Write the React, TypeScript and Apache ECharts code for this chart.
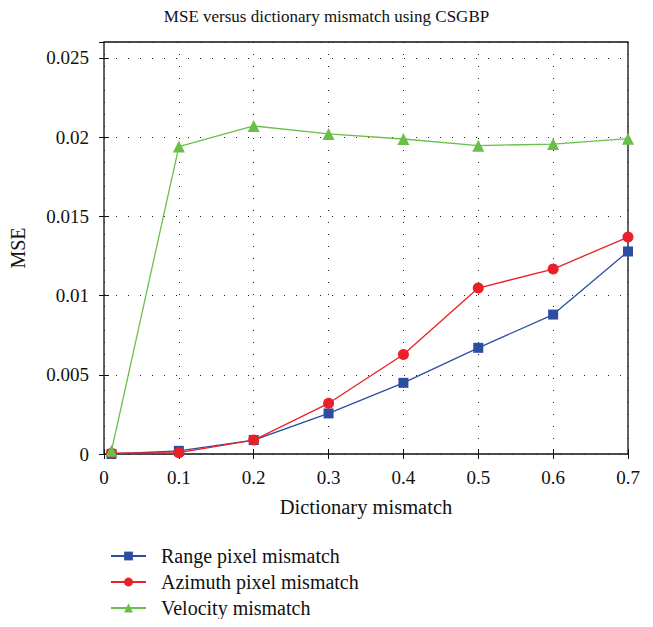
import React, { useEffect, useRef } from "react";
import * as echarts from "echarts";

const xValues = [0.01, 0.1, 0.2, 0.3, 0.4, 0.5, 0.6, 0.7];
const rangeMSE = [0.0, 0.0002, 0.00088, 0.00256, 0.00449, 0.0067, 0.0088, 0.01278];
const azimuthMSE = [0.00005, 0.00008, 0.00088, 0.0032, 0.00628, 0.01047, 0.01167, 0.01369];
const velocityMSE = [0.0002, 0.0194, 0.0207, 0.0202, 0.01988, 0.01946, 0.01956, 0.0199];
const seriesNames = ["Range pixel mismatch", "Azimuth pixel mismatch", "Velocity mismatch"];

const FONT = "'Liberation Serif', 'DejaVu Serif', serif";

export default function App() {
  const ref = useRef<HTMLDivElement>(null);
  useEffect(() => {
    if (!ref.current) return;
    const chart = echarts.init(ref.current, null, { renderer: "svg" });
    const toPairs = (arr: number[]) => arr.map((v, i) => [xValues[i], v]);
    const gridDots = { show: true, lineStyle: { color: "#222", type: [1, 11] as any, width: 1 } };
    const tick = { show: true, inside: true, length: 5, lineStyle: { color: "#111", width: 1 } };
    chart.setOption({
      animation: false,
      backgroundColor: "#fff",
      title: {
        text: "MSE versus dictionary mismatch using CSGBP",
        left: "center",
        top: 3,
        textStyle: { fontFamily: FONT, fontSize: 17, fontWeight: "normal", color: "#111" },
      },
      grid: {
        left: 104,
        right: 25,
        top: 42,
        bottom: 173,
        show: true,
        borderColor: "#111",
        borderWidth: 1.3,
        backgroundColor: "transparent",
      },
      legend: {
        orient: "vertical",
        left: 110,
        top: 546,
        padding: 0,
        itemWidth: 35,
        itemHeight: 11,
        itemGap: 6,
        data: seriesNames,
        textStyle: { fontFamily: FONT, fontSize: 20, lineHeight: 20, color: "#111", padding: [0, 0, 0, 10] },
      },
      xAxis: [
        {
          type: "value",
          min: 0,
          max: 0.7,
          interval: 0.1,
          name: "Dictionary mismatch",
          nameLocation: "middle",
          nameGap: 42,
          nameTextStyle: { fontFamily: FONT, fontSize: 20.5, color: "#111" },
          axisLine: { show: false },
          axisTick: tick,
          axisLabel: {
            fontFamily: FONT,
            fontSize: 19,
            color: "#111",
            margin: 14,
            formatter: (v: number) => (v === 0 ? "0" : v.toFixed(1)),
          },
          splitLine: gridDots,
        },
        {
          type: "value",
          position: "top",
          min: 0,
          max: 0.7,
          interval: 0.1,
          axisLine: { show: false },
          axisTick: tick,
          axisLabel: { show: false },
          splitLine: { show: false },
        },
      ],
      yAxis: [
        {
          type: "value",
          min: 0,
          max: 0.026,
          interval: 0.005,
          name: "MSE",
          nameLocation: "middle",
          nameGap: 76,
          nameTextStyle: { fontFamily: FONT, fontSize: 20, color: "#111" },
          axisLine: { show: false },
          axisTick: tick,
          axisLabel: {
            fontFamily: FONT,
            fontSize: 19,
            color: "#111",
            margin: 15,
            showMaxLabel: false,
            formatter: (v: number) => (v > 0.0255 ? "" : String(+v.toFixed(3))),
          },
          splitLine: gridDots,
        },
        {
          type: "value",
          position: "right",
          min: 0,
          max: 0.026,
          interval: 0.005,
          axisLine: { show: false },
          axisTick: tick,
          axisLabel: { show: false },
          splitLine: { show: false },
        },
      ],
      series: [
        {
          name: seriesNames[0],
          type: "line",
          data: toPairs(rangeMSE),
          symbol: "rect",
          symbolSize: 10,
          color: "#2b4ea3",
          lineStyle: { width: 1.3 },
          z: 3,
        },
        {
          name: seriesNames[1],
          type: "line",
          data: toPairs(azimuthMSE),
          symbol: "circle",
          symbolSize: 11,
          color: "#ea1f27",
          lineStyle: { width: 1.3 },
          z: 4,
        },
        {
          name: seriesNames[2],
          type: "line",
          data: toPairs(velocityMSE),
          symbol: "triangle",
          symbolSize: 12,
          color: "#6abf4b",
          lineStyle: { width: 1.3 },
          z: 5,
        },
      ],
    });
    return () => chart.dispose();
  }, []);
  return <div ref={ref} style={{ width: 653, height: 627, margin: -8 }} />;
}
